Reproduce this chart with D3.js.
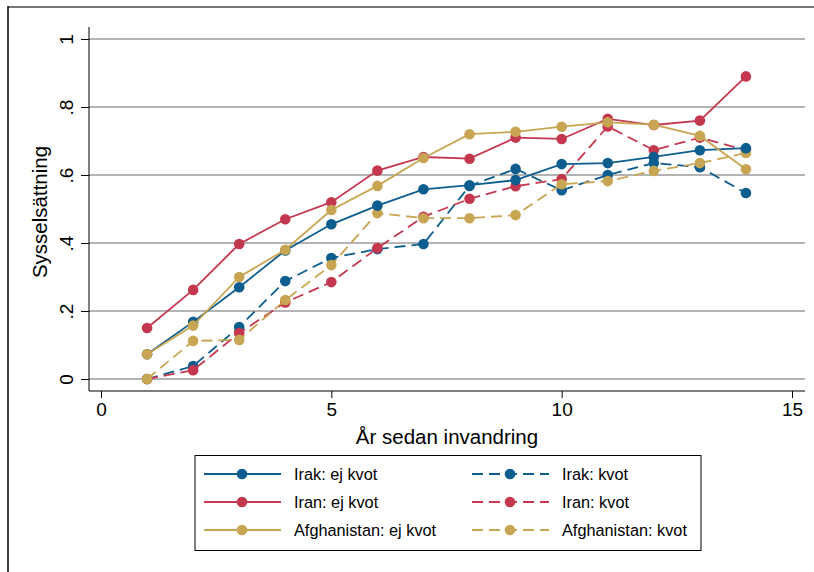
<!DOCTYPE html>
<html><head><meta charset="utf-8">
<script src="https://cdn.jsdelivr.net/npm/d3@7"></script>
<style>body{margin:0;background:#fff;} svg{display:block;font-family:Arial,"Liberation Sans",sans-serif;}</style>
</head><body>
<svg id="c" width="814" height="572"></svg>
<script>
const years = [1,2,3,4,5,6,7,8,9,10,11,12,13,14];
const irakEj   = [0.073,0.168,0.270,0.378,0.455,0.510,0.558,0.570,0.585,0.632,0.635,0.653,0.673,0.679];
const irakKv   = [0.000,0.038,0.153,0.288,0.356,0.382,0.397,0.568,0.618,0.555,0.600,0.635,0.623,0.547];
const iranEj   = [0.150,0.262,0.397,0.470,0.520,0.613,0.653,0.648,0.710,0.706,0.765,0.747,0.760,0.890];
const iranKv   = [0.000,0.026,0.135,0.225,0.285,0.385,0.477,0.530,0.567,0.588,0.743,0.673,0.710,0.673];
const afgEj    = [0.073,0.157,0.300,0.380,0.497,0.568,0.650,0.720,0.727,0.742,0.755,0.748,0.715,0.617];
const afgKv    = [0.000,0.112,0.115,0.232,0.335,0.488,0.473,0.473,0.482,0.573,0.582,0.612,0.635,0.665];
const xTicks = [0,5,10,15];
const yTicks = [0,0.2,0.4,0.6,0.8,1];
const yTickLabels = ["0",".2",".4",".6",".8","1"];
const seriesNames = ["Irak: ej kvot","Irak: kvot","Iran: ej kvot","Iran: kvot","Afghanistan: ej kvot","Afghanistan: kvot"];

const BLUE="#0d5d8e", RED="#c4384f", GOLD="#c8a552";
const series = [
  {name:seriesNames[0], v:irakEj, c:BLUE, dash:null},
  {name:seriesNames[2], v:iranEj, c:RED, dash:null},
  {name:seriesNames[4], v:afgEj, c:GOLD, dash:null},
  {name:seriesNames[1], v:irakKv, c:BLUE, dash:"11,6"},
  {name:seriesNames[3], v:iranKv, c:RED, dash:"11,6"},
  {name:seriesNames[5], v:afgKv, c:GOLD, dash:"11,6"}
];

const svg = d3.select("#c");
// outer frame (cropped)
svg.append("line").attr("x1",8).attr("x2",814).attr("y1",7).attr("y2",7).attr("stroke","#777").attr("stroke-width",2);
svg.append("line").attr("x1",8).attr("x2",8).attr("y1",6).attr("y2",572).attr("stroke","#000").attr("stroke-width",1.5);

const x = d3.scaleLinear().domain([0,15]).range([101,792]);
const y = d3.scaleLinear().domain([0,1]).range([379,39]);
const L=89, R=805, T=27, B=391;

// gridlines
svg.append("g").selectAll("line").data(yTicks).join("line")
  .attr("x1",L).attr("x2",R).attr("y1",d=>y(d)).attr("y2",d=>y(d))
  .attr("stroke","#b4b4b4").attr("stroke-width",2);

// y axis
const ya = svg.append("g").attr("transform",`translate(${L},0)`)
  .call(d3.axisLeft(y).tickValues(yTicks).tickSize(8).tickSizeOuter(0).tickFormat((d,i)=>yTickLabels[i]));
ya.select(".domain").remove();
ya.append("line").attr("x1",0).attr("x2",0).attr("y1",T).attr("y2",B).attr("stroke","#000").attr("stroke-width",1);
ya.selectAll(".tick line").attr("stroke","#000");
ya.selectAll(".tick text").attr("font-size",19).attr("fill","#000")
  .attr("x",null).attr("dy",null)
  .attr("text-anchor","middle")
  .attr("transform","translate(-23,0) rotate(-90)")
  .attr("y",0).attr("dy","0.35em");

// x axis
const xa = svg.append("g").attr("transform",`translate(0,${B})`)
  .call(d3.axisBottom(x).tickValues(xTicks).tickSize(7).tickSizeOuter(0).tickFormat(d3.format("d")));
xa.select(".domain").remove();
xa.append("line").attr("x1",L).attr("x2",R).attr("y1",0).attr("y2",0).attr("stroke","#000").attr("stroke-width",1);
xa.selectAll(".tick line").attr("stroke","#000");
xa.selectAll(".tick text").attr("font-size",19).attr("fill","#000").attr("y",12);

// axis titles
svg.append("text").attr("x",447).attr("y",444).attr("text-anchor","middle").attr("font-size",20.5).text("År sedan invandring");
svg.append("text").attr("transform","translate(47,212) rotate(-90)").attr("text-anchor","middle").attr("font-size",20.5).text("Sysselsättning");

// lines
const line = d3.line().x((d,i)=>x(years[i])).y(d=>y(d));
const order = [3,4,5,0,1,2];
order.forEach(k=>{
  const s = series[k];
  svg.append("path").datum(s.v).attr("d",line).attr("fill","none")
    .attr("stroke",s.c).attr("stroke-width",1.8).attr("stroke-dasharray",s.dash);
  svg.append("g").selectAll("circle").data(s.v).join("circle")
    .attr("cx",(d,i)=>x(years[i])).attr("cy",d=>y(d)).attr("r",5.3).attr("fill",s.c);
});

// legend
const lg = svg.append("g");
lg.append("rect").attr("x",195).attr("y",455.5).attr("width",506).attr("height",95)
  .attr("fill","#fff").attr("stroke","#000").attr("stroke-width",1);
series.forEach((s,k)=>{
  const col = k<3?0:1, row = k%3;
  const x0 = col===0?204:472, yy = 474+row*28;
  lg.append("line").attr("x1",x0).attr("x2",x0+77).attr("y1",yy).attr("y2",yy)
    .attr("stroke",s.c).attr("stroke-width",1.8).attr("stroke-dasharray",s.dash);
  lg.append("circle").attr("cx",x0+38).attr("cy",yy).attr("r",5.3).attr("fill",s.c);
  lg.append("text").attr("x",x0+90).attr("y",yy).attr("dy","0.35em").attr("font-size",16.3).text(s.name);
});
</script>
</body></html>
